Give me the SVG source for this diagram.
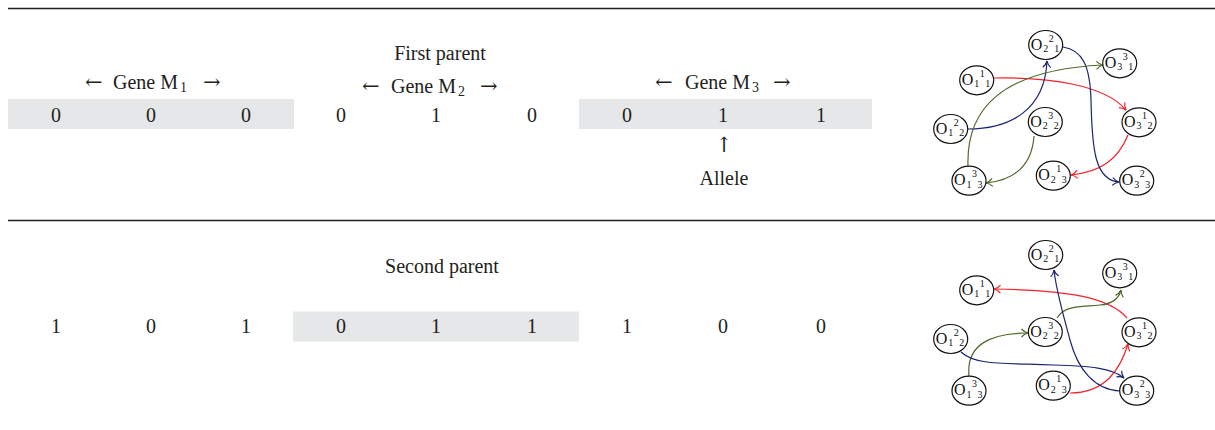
<svg xmlns="http://www.w3.org/2000/svg" width="1215" height="430" viewBox="0 0 1215 430">
<style>
.t{font-family:"Liberation Serif","Times New Roman",serif;font-size:20px;fill:#231f20}
.a{font-family:"DejaVu Serif","DejaVu Sans",serif;font-size:21px;fill:#231f20}
.d{font-family:"Liberation Serif","Times New Roman",serif;font-size:20px;fill:#231f20;text-anchor:middle}
.sub{font-size:14px}
.bar{fill:#e6e7e8}
.rule{stroke:#231f20;stroke-width:1.4}
.nd ellipse{fill:#fff;stroke:#111;stroke-width:1.2}
.nd text{font-family:"Liberation Serif","Times New Roman",serif;fill:#111}
.o{font-size:16px}
.s{font-size:10px}
.er{fill:none;stroke:#f5222a;stroke-width:1.2;marker-end:url(#ar)}
.eb{fill:none;stroke:#1c2570;stroke-width:1.2;marker-end:url(#ab)}
.eg{fill:none;stroke:#4f6a2a;stroke-width:1.2;marker-end:url(#ag)}
</style>
<defs>
<marker id="ar" markerWidth="10" markerHeight="10" refX="8" refY="5" orient="auto" markerUnits="userSpaceOnUse"><path d="M1.5,1 Q4,4 8,5 Q4,6 1.5,9" fill="none" stroke="#f5222a" stroke-width="1.2"/></marker>
<marker id="ab" markerWidth="10" markerHeight="10" refX="8" refY="5" orient="auto" markerUnits="userSpaceOnUse"><path d="M1.5,1 Q4,4 8,5 Q4,6 1.5,9" fill="none" stroke="#1c2570" stroke-width="1.2"/></marker>
<marker id="ag" markerWidth="10" markerHeight="10" refX="8" refY="5" orient="auto" markerUnits="userSpaceOnUse"><path d="M1.5,1 Q4,4 8,5 Q4,6 1.5,9" fill="none" stroke="#4f6a2a" stroke-width="1.2"/></marker>
</defs>

<line class="rule" x1="8" y1="8.5" x2="1215" y2="8.5"/>
<line class="rule" x1="8" y1="220.5" x2="1215" y2="220.5"/>

<g id="row1">
<rect class="bar" x="8" y="99" width="286" height="30"/>
<rect class="bar" x="579" y="99" width="293" height="30"/>
<text class="t" x="440" y="60" text-anchor="middle">First parent</text>
<text class="a" x="85" y="89">←</text><text class="t" x="113" y="89">Gene M</text><text class="t sub" x="180" y="92">1</text><text class="a" x="203" y="89">→</text>
<text class="a" x="362" y="93">←</text><text class="t" x="391" y="93">Gene M</text><text class="t sub" x="458" y="96">2</text><text class="a" x="480" y="93">→</text>
<text class="a" x="655" y="89">←</text><text class="t" x="685" y="89">Gene M</text><text class="t sub" x="752" y="92">3</text><text class="a" x="773" y="89">→</text>
<text class="d" x="56" y="122">0</text><text class="d" x="151" y="122">0</text><text class="d" x="246" y="122">0</text>
<text class="d" x="341" y="122">0</text><text class="d" x="436" y="122">1</text><text class="d" x="532" y="122">0</text>
<text class="d" x="627" y="122">0</text><text class="d" x="723" y="122">1</text><text class="d" x="821" y="122">1</text>
<text class="a" x="724" y="152" text-anchor="middle">↑</text>
<text class="d" x="724" y="185">Allele</text>
</g>

<g id="row2">
<rect class="bar" x="293" y="311.5" width="286" height="30"/>
<text class="t" x="442" y="273" text-anchor="middle">Second parent</text>
<text class="d" x="56" y="333">1</text><text class="d" x="151" y="333">0</text><text class="d" x="246" y="333">1</text>
<text class="d" x="341" y="333">0</text><text class="d" x="436" y="333">1</text><text class="d" x="532" y="333">1</text>
<text class="d" x="627" y="333">1</text><text class="d" x="723" y="333">0</text><text class="d" x="821" y="333">0</text>
</g>

<g id="connectors">
<path class="er" d="M994,78 C1050,77 1105,85 1126,110"/>
<path class="er" d="M1128,135 C1118,160 1100,172 1071,175"/>
<path class="eb" d="M968,129 C1010,129 1045,110 1047,61"/>
<path class="eb" d="M1063,47 C1082,50 1090,65 1091,100 C1092,150 1095,180 1119,182"/>
<path class="eg" d="M968,166 C966,110 1000,70 1103,65"/>
<path class="eg" d="M1034,136 C1032,165 1015,180 986,183"/>

<path class="er" d="M1127,318 C1110,298 1070,290 994,289"/>
<path class="er" d="M1070,393 C1105,393 1120,370 1128,344"/>
<path class="eg" d="M969,376 C966,345 990,333 1028,333"/>
<path class="eg" d="M1057,318 C1065,305 1080,307 1100,305 C1112,304 1119,298 1121,290"/>
<path class="eb" d="M961,352 C975,365 1000,363 1053,365 C1090,366 1112,368 1124,378"/>
<path class="eb" d="M1120,391 C1095,390 1078,370 1070,340 C1062,310 1056,290 1054,270"/>
</g>

<g id="n_top_O111" class="nd" transform="translate(976.7,80.3)"><ellipse rx="17" ry="14.5"/><text class="o" x="-15" y="4.5">O</text><text class="s" x="-2.5" y="7">1</text><text class="s" x="3" y="-3.5">1</text><text class="s" x="8.5" y="7">1</text></g>
<g id="n_top_O221" class="nd" transform="translate(1045.7,45)"><ellipse rx="17" ry="14.5"/><text class="o" x="-15" y="4.5">O</text><text class="s" x="-2.5" y="7">2</text><text class="s" x="3" y="-3.5">2</text><text class="s" x="8.5" y="7">1</text></g>
<g id="n_top_O331" class="nd" transform="translate(1119.7,63.3)"><ellipse rx="17" ry="14.5"/><text class="o" x="-15" y="4.5">O</text><text class="s" x="-2.5" y="7">3</text><text class="s" x="3" y="-3.5">3</text><text class="s" x="8.5" y="7">1</text></g>
<g id="n_top_O122" class="nd" transform="translate(950.7,129)"><ellipse rx="17" ry="14.5"/><text class="o" x="-15" y="4.5">O</text><text class="s" x="-2.5" y="7">1</text><text class="s" x="3" y="-3.5">2</text><text class="s" x="8.5" y="7">2</text></g>
<g id="n_top_O232" class="nd" transform="translate(1045.3,122)"><ellipse rx="17" ry="14.5"/><text class="o" x="-15" y="4.5">O</text><text class="s" x="-2.5" y="7">2</text><text class="s" x="3" y="-3.5">3</text><text class="s" x="8.5" y="7">2</text></g>
<g id="n_top_O312" class="nd" transform="translate(1139,122.3)"><ellipse rx="17" ry="14.5"/><text class="o" x="-15" y="4.5">O</text><text class="s" x="-2.5" y="7">3</text><text class="s" x="3" y="-3.5">1</text><text class="s" x="8.5" y="7">2</text></g>
<g id="n_top_O133" class="nd" transform="translate(969,180.7)"><ellipse rx="17" ry="14.5"/><text class="o" x="-15" y="4.5">O</text><text class="s" x="-2.5" y="7">1</text><text class="s" x="3" y="-3.5">3</text><text class="s" x="8.5" y="7">3</text></g>
<g id="n_top_O213" class="nd" transform="translate(1053.3,175.7)"><ellipse rx="17" ry="14.5"/><text class="o" x="-15" y="4.5">O</text><text class="s" x="-2.5" y="7">2</text><text class="s" x="3" y="-3.5">1</text><text class="s" x="8.5" y="7">3</text></g>
<g id="n_top_O323" class="nd" transform="translate(1136.7,180.7)"><ellipse rx="17" ry="14.5"/><text class="o" x="-15" y="4.5">O</text><text class="s" x="-2.5" y="7">3</text><text class="s" x="3" y="-3.5">2</text><text class="s" x="8.5" y="7">3</text></g>

<g id="n_bot_O111" class="nd" transform="translate(976.7,290.3)"><ellipse rx="17" ry="14.5"/><text class="o" x="-15" y="4.5">O</text><text class="s" x="-2.5" y="7">1</text><text class="s" x="3" y="-3.5">1</text><text class="s" x="8.5" y="7">1</text></g>
<g id="n_bot_O221" class="nd" transform="translate(1045.7,255)"><ellipse rx="17" ry="14.5"/><text class="o" x="-15" y="4.5">O</text><text class="s" x="-2.5" y="7">2</text><text class="s" x="3" y="-3.5">2</text><text class="s" x="8.5" y="7">1</text></g>
<g id="n_bot_O331" class="nd" transform="translate(1119.7,273.3)"><ellipse rx="17" ry="14.5"/><text class="o" x="-15" y="4.5">O</text><text class="s" x="-2.5" y="7">3</text><text class="s" x="3" y="-3.5">3</text><text class="s" x="8.5" y="7">1</text></g>
<g id="n_bot_O122" class="nd" transform="translate(950.7,339)"><ellipse rx="17" ry="14.5"/><text class="o" x="-15" y="4.5">O</text><text class="s" x="-2.5" y="7">1</text><text class="s" x="3" y="-3.5">2</text><text class="s" x="8.5" y="7">2</text></g>
<g id="n_bot_O232" class="nd" transform="translate(1045.3,332)"><ellipse rx="17" ry="14.5"/><text class="o" x="-15" y="4.5">O</text><text class="s" x="-2.5" y="7">2</text><text class="s" x="3" y="-3.5">3</text><text class="s" x="8.5" y="7">2</text></g>
<g id="n_bot_O312" class="nd" transform="translate(1139,332.3)"><ellipse rx="17" ry="14.5"/><text class="o" x="-15" y="4.5">O</text><text class="s" x="-2.5" y="7">3</text><text class="s" x="3" y="-3.5">1</text><text class="s" x="8.5" y="7">2</text></g>
<g id="n_bot_O133" class="nd" transform="translate(969,390.7)"><ellipse rx="17" ry="14.5"/><text class="o" x="-15" y="4.5">O</text><text class="s" x="-2.5" y="7">1</text><text class="s" x="3" y="-3.5">3</text><text class="s" x="8.5" y="7">3</text></g>
<g id="n_bot_O213" class="nd" transform="translate(1053.3,385.7)"><ellipse rx="17" ry="14.5"/><text class="o" x="-15" y="4.5">O</text><text class="s" x="-2.5" y="7">2</text><text class="s" x="3" y="-3.5">1</text><text class="s" x="8.5" y="7">3</text></g>
<g id="n_bot_O323" class="nd" transform="translate(1136.7,390.7)"><ellipse rx="17" ry="14.5"/><text class="o" x="-15" y="4.5">O</text><text class="s" x="-2.5" y="7">3</text><text class="s" x="3" y="-3.5">2</text><text class="s" x="8.5" y="7">3</text></g>
</svg>
